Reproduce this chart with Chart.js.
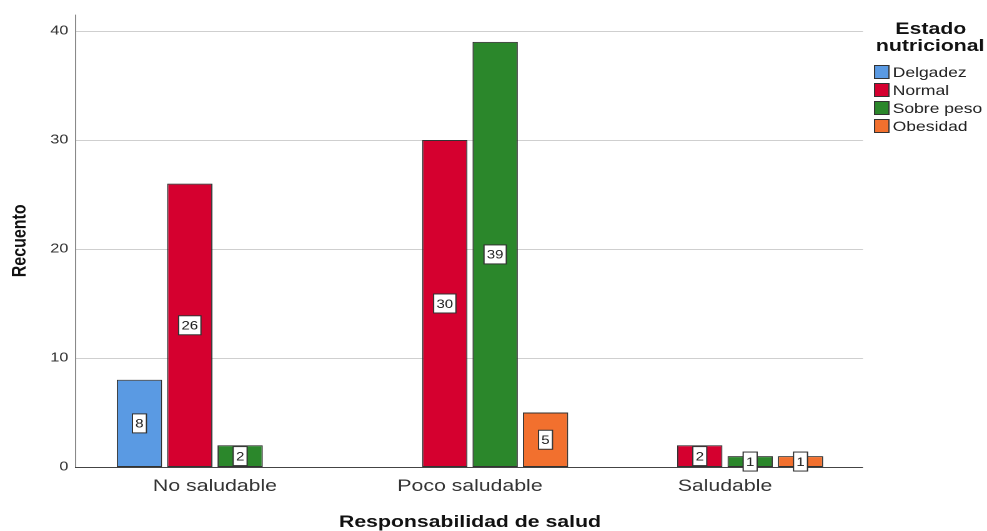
<!DOCTYPE html>
<html><head><meta charset="utf-8">
<script src="https://cdn.jsdelivr.net/npm/chart.js@4"></script>
<style>
html,body{margin:0;padding:0;background:#fff;overflow:hidden}
#wrap{width:790px;height:531px;transform:scaleX(1.2494);transform-origin:0 0;}
</style></head><body>
<div id="wrap"><canvas id="c"></canvas></div>
<script>
const categories = ['No saludable', 'Poco saludable', 'Saludable'];
const seriesNames = ['Delgadez', 'Normal', 'Sobre peso', 'Obesidad'];
const delgadez = [8, null, null];
const normal = [26, 30, 2];
const sobrePeso = [2, 39, 1];
const obesidad = [null, 5, 1];
const yTicks = [0, 10, 20, 30, 40];
const legendTitle = ['Estado', 'nutricional'];
const xTitle = 'Responsabilidad de salud';
const yTitle = 'Recuento';
const colors = ['#5a9ae3', '#d5002f', '#2b872b', '#f2702e'];

const FONT = '"Liberation Sans", Arial, sans-serif';
const AXIS_X = 60, GRID_END = 690.7;

const deco = {
  id: 'deco',
  beforeDatasetsDraw(chart) {
    const {ctx, chartArea, scales: {y}} = chart;
    ctx.save();
    ctx.strokeStyle = '#cfcfcf';
    ctx.lineWidth = 1;
    yTicks.forEach(v => {
      if (v === 0) return;
      const py = Math.round(y.getPixelForValue(v)) + 0.5;
      ctx.beginPath(); ctx.moveTo(AXIS_X, py); ctx.lineTo(GRID_END, py); ctx.stroke();
    });
    ctx.strokeStyle = '#8a8a8a';
    ctx.beginPath();
    ctx.moveTo(AXIS_X + 0.5, chartArea.top);
    ctx.lineTo(AXIS_X + 0.5, y.getPixelForValue(0));
    ctx.stroke();
    ctx.restore();
  },
  afterDatasetsDraw(chart) {
    const {ctx, scales: {y}} = chart;
    ctx.save();
    const py = Math.round(y.getPixelForValue(0)) + 0.5;
    ctx.strokeStyle = '#444';
    ctx.lineWidth = 1;
    ctx.beginPath(); ctx.moveTo(AXIS_X, py); ctx.lineTo(GRID_END, py); ctx.stroke();
    ctx.font = '12px ' + FONT;
    ctx.textAlign = 'center';
    ctx.textBaseline = 'middle';
    chart.data.datasets.forEach((ds, di) => {
      const meta = chart.getDatasetMeta(di);
      meta.data.forEach((el, i) => {
        const v = ds.data[i];
        if (v === null || v === undefined) return;
        const cx = el.x;
        const cy = (el.y + el.base) / 2;
        const txt = String(v);
        const w = ctx.measureText(txt).width + 4.5;
        const h = 19;
        ctx.fillStyle = '#fff';
        ctx.fillRect(cx - w / 2, cy - h / 2, w, h);
        ctx.strokeStyle = '#333';
        ctx.strokeRect(cx - w / 2, cy - h / 2, w, h);
        ctx.fillStyle = '#222';
        ctx.fillText(txt, cx, cy + 1);
      });
    });
    ctx.restore();
  },
  afterDraw(chart) {
    const {ctx} = chart;
    ctx.save();
    ctx.fillStyle = '#111';
    ctx.font = 'bold 17px ' + FONT;
    ctx.textAlign = 'center';
    ctx.textBaseline = 'middle';
    ctx.fillText(legendTitle[0], 745, 29.5);
    ctx.fillText(legendTitle[1], 744.5, 46.5);
    ctx.font = '14px ' + FONT;
    ctx.textAlign = 'left';
    chart.data.datasets.forEach((ds, i) => {
      const cy = 72 + i * 18;
      ctx.fillStyle = ds.backgroundColor;
      ctx.fillRect(700, cy - 6.5, 11.5, 13);
      ctx.strokeStyle = '#333';
      ctx.lineWidth = 1;
      ctx.strokeRect(700, cy - 6.5, 11.5, 13);
      ctx.fillStyle = '#222';
      ctx.fillText(ds.label, 714.5, cy + 1);
    });
    ctx.restore();
  }
};

const series = [delgadez, normal, sobrePeso, obesidad];
new Chart(document.getElementById('c'), {
  type: 'bar',
  data: {
    labels: categories,
    datasets: series.map((d, i) => ({
      label: seriesNames[i],
      data: d,
      backgroundColor: colors[i],
      borderColor: '#333',
      borderWidth: 1,
      borderSkipped: false,
      barPercentage: 0.9,
      categoryPercentage: 0.79
    }))
  },
  options: {
    responsive: true,
    maintainAspectRatio: false,
    animation: false,
    devicePixelRatio: 2,
    layout: {padding: {left: 0, right: 107.7, top: 14.6, bottom: 0}},
    plugins: {legend: {display: false}, tooltip: {enabled: false}},
    scales: {
      x: {
        grid: {display: false, drawTicks: false},
        border: {display: false},
        ticks: {color: '#333', padding: 9, font: {size: 17, family: FONT}},
        title: {display: true, text: xTitle, color: '#111', padding: {top: 0, bottom: 0},
                font: {size: 17, weight: 'bold', family: FONT, lineHeight: 1.05}},
        afterFit(s) { s.height = 64; s.paddingLeft = 0; s.paddingRight = 0; }
      },
      y: {
        min: 0, max: 41.5,
        grid: {display: false, drawTicks: false},
        border: {display: false},
        afterBuildTicks(s) { s.ticks = yTicks.map(v => ({value: v})); },
        ticks: {color: '#333', padding: 15.3, font: {size: 13, family: FONT}},
        title: {display: true, text: yTitle, color: '#111', padding: {top: 6.4, bottom: 0},
                font: {size: 16, weight: 'bold', family: FONT}},
        afterFit(s) { s.width = 70; s.paddingTop = 0; s.paddingBottom = 0; }
      }
    }
  },
  plugins: [deco]
});
</script>
</body></html>
